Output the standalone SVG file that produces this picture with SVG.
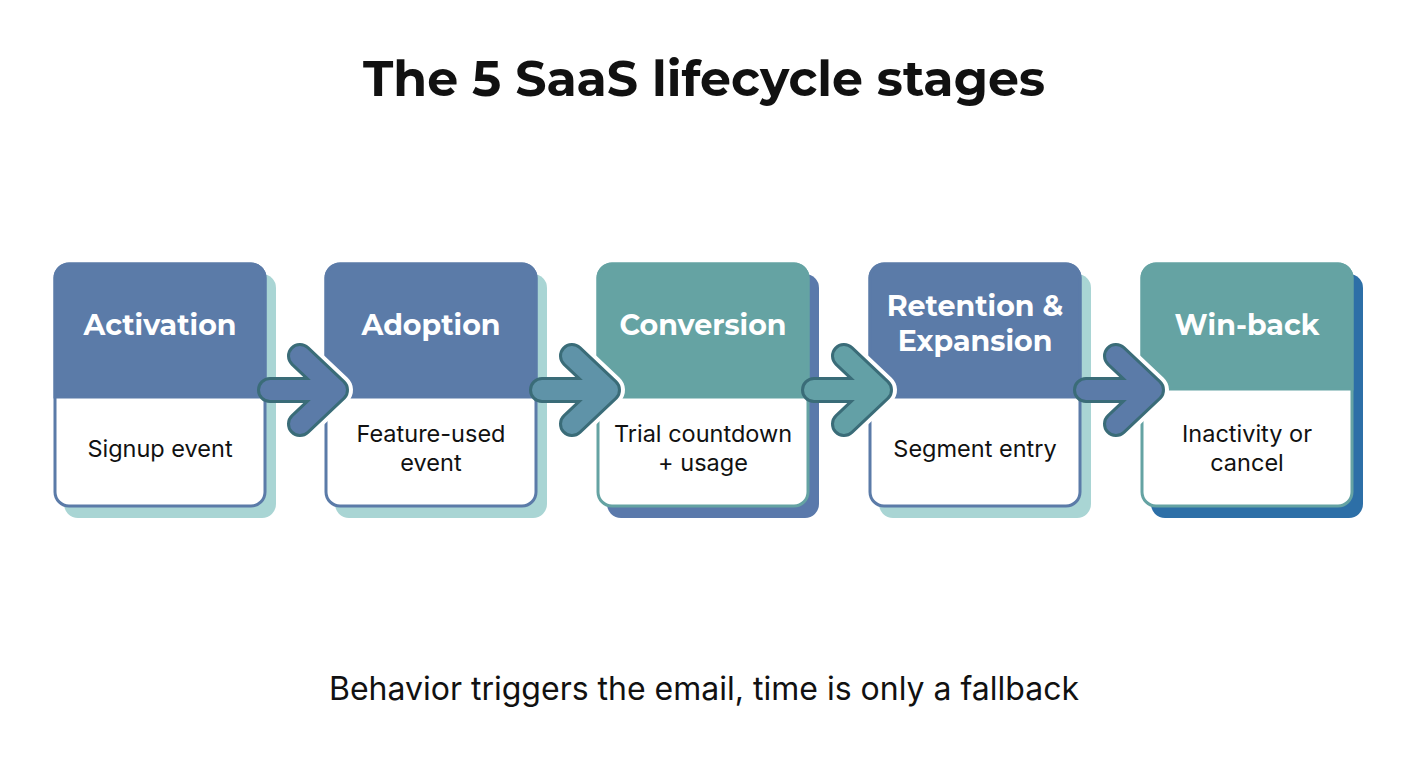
<svg xmlns="http://www.w3.org/2000/svg" width="1408" height="768" viewBox="0 0 1408 768">
<style>
.t{font-family:Montserrat,"Open Sans","Noto Sans",sans-serif;font-weight:700;fill:#fff;font-size:28.5px;text-anchor:middle}
.b{font-family:Inter,"Liberation Sans",sans-serif;font-size:23.5px;fill:#111;text-anchor:middle}
.h{fill:none;stroke:#fff;stroke-width:34;stroke-linecap:round;stroke-linejoin:round}
.o{fill:none;stroke:#3a6c78;stroke-width:26;stroke-linecap:round;stroke-linejoin:round}
.f{fill:none;stroke-width:20;stroke-linecap:round;stroke-linejoin:round}
</style>
<rect width="1408" height="768" fill="#fff"/>
<text x="704" y="96" font-family="Montserrat,'Open Sans','Noto Sans',sans-serif" font-weight="700" font-size="49" text-anchor="middle" fill="#111">The 5 SaaS lifecycle stages</text>
<g id="activation">
<rect x="64" y="274" width="212" height="244" rx="14" fill="#a9d5d4"/>
<rect x="55" y="264" width="210" height="242" rx="14" fill="#fff" stroke="#5b7ba8" stroke-width="3"/>
<path d="M55 397V278a14 14 0 0 1 14-14h182a14 14 0 0 1 14 14V397Z" fill="#5b7ba8" stroke="#5b7ba8" stroke-width="3"/>
<text class="t" x="160" y="335">Activation</text>
<text class="b" x="160" y="457">Signup event</text>
</g>
<g id="adoption">
<rect x="335" y="274" width="212" height="244" rx="14" fill="#a9d5d4"/>
<rect x="326" y="264" width="210" height="242" rx="14" fill="#fff" stroke="#5b7ba8" stroke-width="3"/>
<path d="M326 397V278a14 14 0 0 1 14-14h182a14 14 0 0 1 14 14V397Z" fill="#5b7ba8" stroke="#5b7ba8" stroke-width="3"/>
<text class="t" x="431" y="335">Adoption</text>
<text class="b" x="431" y="442">Feature-used</text>
<text class="b" x="431" y="471">event</text>
</g>
<g id="conversion">
<rect x="607" y="274" width="212" height="244" rx="14" fill="#5a79ab"/>
<rect x="598" y="264" width="210" height="242" rx="14" fill="#fff" stroke="#65a3a3" stroke-width="3"/>
<path d="M598 397V278a14 14 0 0 1 14-14h182a14 14 0 0 1 14 14V397Z" fill="#65a3a3" stroke="#65a3a3" stroke-width="3"/>
<text class="t" x="703" y="335">Conversion</text>
<text class="b" x="703" y="442">Trial countdown</text>
<text class="b" x="703" y="471">+ usage</text>
</g>
<g id="retention">
<rect x="879" y="274" width="212" height="244" rx="14" fill="#a9d5d4"/>
<rect x="870" y="264" width="210" height="242" rx="14" fill="#fff" stroke="#5b7ba8" stroke-width="3"/>
<path d="M870 397V278a14 14 0 0 1 14-14h182a14 14 0 0 1 14 14V397Z" fill="#5b7ba8" stroke="#5b7ba8" stroke-width="3"/>
<text class="t" x="975" y="316">Retention &amp;</text>
<text class="t" x="975" y="351">Expansion</text>
<text class="b" x="975" y="457">Segment entry</text>
</g>
<g id="winback">
<rect x="1151" y="274" width="212" height="244" rx="14" fill="#2d6fa7"/>
<rect x="1142" y="264" width="210" height="242" rx="14" fill="#fff" stroke="#65a3a3" stroke-width="3"/>
<path d="M1142 389V278a14 14 0 0 1 14-14h182a14 14 0 0 1 14 14V389Z" fill="#65a3a3" stroke="#65a3a3" stroke-width="3"/>
<text class="t" x="1247" y="335">Win-back</text>
<text class="b" x="1247" y="442">Inactivity or</text>
<text class="b" x="1247" y="471">cancel</text>
</g>
<g id="connectors">
<g><path class="h" d="M300 356L336 390L300 424"/><path class="o" d="M270 390H332M300 356L336 390L300 424"/><path class="f" stroke="#5b7ba8" d="M270 390H332M300 356L336 390L300 424"/></g>
<g><path class="h" d="M572 356L608 390L572 424"/><path class="o" d="M542 390H604M572 356L608 390L572 424"/><path class="f" stroke="#5f93a8" d="M542 390H604M572 356L608 390L572 424"/></g>
<g><path class="h" d="M844 356L880 390L844 424"/><path class="o" d="M814 390H876M844 356L880 390L844 424"/><path class="f" stroke="#63a0a6" d="M814 390H876M844 356L880 390L844 424"/></g>
<g><path class="h" d="M1116 356L1152 390L1116 424"/><path class="o" d="M1086 390H1148M1116 356L1152 390L1116 424"/><path class="f" stroke="#5b7ba8" d="M1086 390H1148M1116 356L1152 390L1116 424"/></g>
</g>
<text x="704" y="700" font-family="Inter,'Liberation Sans',sans-serif" font-size="32" text-anchor="middle" fill="#111">Behavior triggers the email, time is only a fallback</text>
</svg>
